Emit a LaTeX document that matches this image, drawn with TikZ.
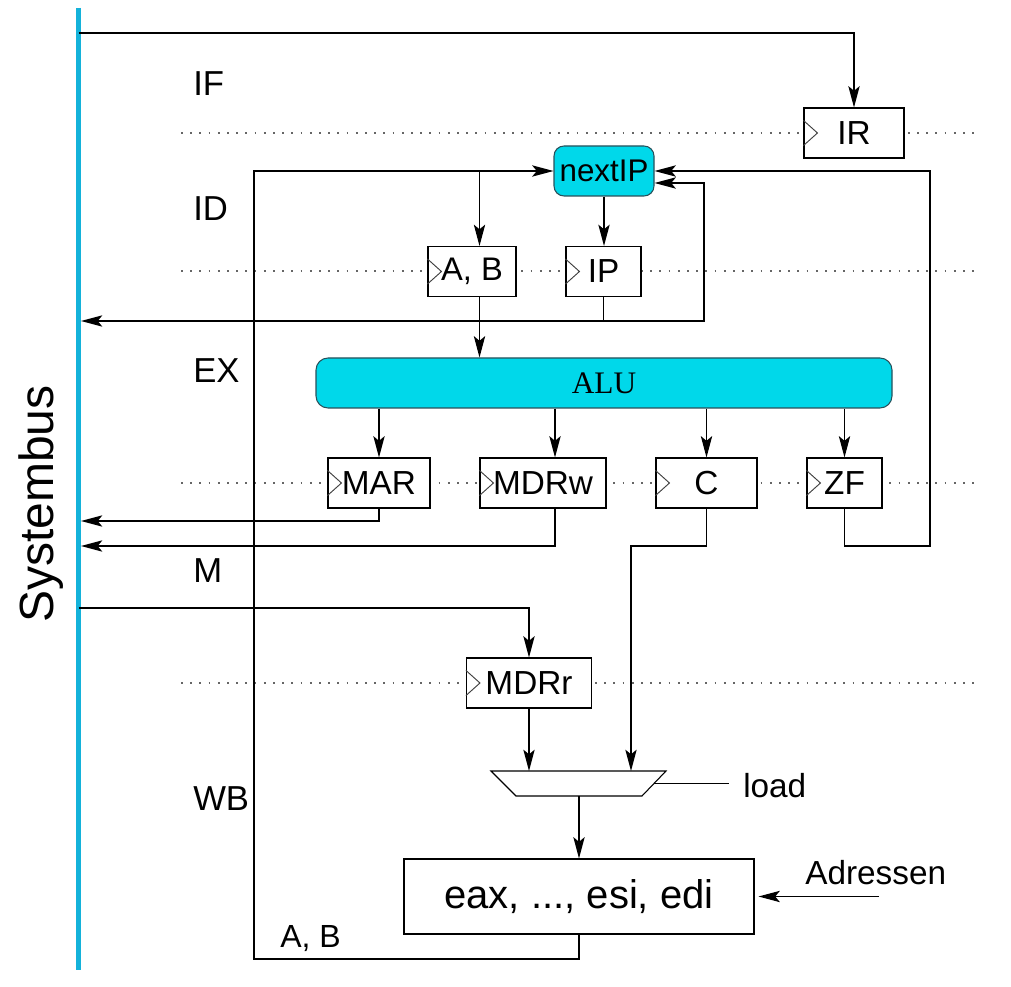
\documentclass[tikz,border=0pt]{standalone}
\usepackage{fontspec}
\setmainfont{Liberation Sans}
\newfontfamily\alufont{Liberation Serif}
\usetikzlibrary{arrows.meta}
\definecolor{busblue}{RGB}{20,178,218}
\definecolor{unitcyan}{RGB}{0,216,234}
\definecolor{unitedge}{RGB}{40,80,90}
\begin{document}
\begin{tikzpicture}[x=0.75pt,y=-0.75pt,
  reg/.style={draw, line width=0.8pt, fill=white, inner sep=0pt, minimum height=37.5pt, font=\fontsize{25}{30}\selectfont},
  unit/.style={draw=unitedge, fill=unitcyan, rounded corners=7.5pt, line width=0.8pt, inner sep=0pt, minimum height=37.5pt},
  wire/.style={line width=0.9pt},
  arr/.style={wire, -{Stealth[length=16pt,width=8.5pt,inset=3.5pt]}},
  stage/.style={anchor=base west, inner sep=0pt, font=\fontsize{26}{30}\selectfont},
  lbl/.style={anchor=base west, inner sep=0pt, font=\fontsize{25}{30}\selectfont},
  dots/.style={black!60, line width=1.3pt, dash pattern=on 1.3pt off 5.6pt},
  clock/.style={black!75, line width=0.7pt}]
\useasboundingbox (0,0) rectangle (1011,987);

% stage separators
\coordinate (d1a) at (181,133); \coordinate (d1b) at (980,133);
\coordinate (d2a) at (181,271); \coordinate (d2b) at (980,271);
\coordinate (d3a) at (181,483); \coordinate (d3b) at (980,483);
\coordinate (d4a) at (181,683); \coordinate (d4b) at (980,683);
\draw[dots] (d1a) -- (d1b);
\draw[dots] (d2a) -- (d2b);
\draw[dots] (d3a) -- (d3b);
\draw[dots] (d4a) -- (d4b);

% stage labels
\node[stage] (IF) at (193,96) {IF};
\node[stage] (ID) at (193,221) {ID};
\node[stage] (EX) at (193,383) {EX};
\node[stage] (M) at (193,583) {M};
\node[stage] (WB) at (193,810) {WB};

% system bus
\coordinate (bTop) at (78.5,8); \coordinate (bBot) at (78.5,970);
\draw[busblue, line width=3.75pt] (bTop) -- (bBot);
\node[anchor=base west, rotate=90, inner sep=0pt, font=\fontsize{36}{40}\selectfont] (sbus) at (53,623) {Systembus};

% units and registers
\node[reg, minimum width=75pt] (IR) at (854,133) {IR};
\node[unit, minimum width=75pt, font=\fontsize{23.5}{28}\selectfont] (nIP) at (604,171) {nextIP};
\node[reg, minimum width=66pt, font=\fontsize{24.5}{28}\selectfont] (AB) at (472,271.5) {A, B};
\node[reg, minimum width=56.25pt] (IP) at (603.5,271.5) {IP};
\node[unit, minimum width=432pt, rounded corners=9pt, font=\alufont\fontsize{23.5}{28}\selectfont] (ALU) at (604,383) {ALU};
\node[reg, minimum width=76.5pt] (MAR) at (379,483) {MAR};
\node[reg, minimum width=94.5pt] (MDRw) at (543,483) {MDRw};
\node[reg, minimum width=75.75pt] (C) at (706.5,483) {C};
\node[reg, minimum width=56.25pt] (ZF) at (844.5,483) {ZF};
\node[reg, minimum width=93.75pt] (MDRr) at (529,683) {MDRr};
\node[reg, minimum width=262.5pt, minimum height=56.25pt, font=\fontsize{30}{36}\selectfont] (RF) at (579,896.5) {eax, ..., esi, edi};

% clock marks
\foreach \r in {IR,AB,IP,MAR,MDRw,C,ZF,MDRr}{
  \draw[clock] ([yshift=9.4pt]\r.west) -- ([xshift=10.5pt]\r.west) -- ([yshift=-9.4pt]\r.west);
}

% multiplexer
\coordinate (mTL) at (491,771); \coordinate (mTR) at (666,771);
\coordinate (mBR) at (642,796); \coordinate (mBL) at (516,796);
\draw[line width=0.8pt, fill=white] (mTL) -- (mTR) -- (mBR) -- (mBL) -- cycle;
\coordinate (mR) at (654,783.5);
\coordinate (mO) at (579,796);
\node[lbl] (load) at (743,797) {load};
\draw[wire] (mR) -- ([xshift=-10.5pt]load.west |- mR);

% labels
\node[lbl] (adr) at (805,884) {Adressen};
\node[lbl, font=\fontsize{24}{28}\selectfont] (abl) at (280,947) {A, B};

% wires
\coordinate (s1) at (78.5,33);
\draw[arr] (s1) -| (IR.north);
\coordinate (fb) at (254,959);
\draw[arr] (RF.south) |- (fb) |- (nIP.west);
\coordinate (j1) at (479.5,171);
\draw[arr] (j1) -- (j1 |- AB.north);
\draw[arr] (j1 |- AB.south) -- (j1 |- ALU.north);
\draw[arr] (nIP.south) -- (nIP.south |- IP.north);
\coordinate (b321) at (81,321);
\coordinate (r704) at (704,321);
\draw[arr] (IP.south) |- (b321);
\draw[arr] (IP.south) |- (r704) |- ([yshift=-9pt]nIP.east);
\coordinate (r930) at (930,546);
\draw[arr] (ZF.south) |- (r930) |- (nIP.east);

\coordinate (xw) at (555,0);
\draw[arr] (MAR.north |- ALU.south) -- (MAR.north);
\draw[arr] (xw |- ALU.south) -- (xw |- MDRw.north);
\draw[arr] (C.north |- ALU.south) -- (C.north);
\draw[arr] (ZF.north |- ALU.south) -- (ZF.north);

\coordinate (b521) at (81,521);
\coordinate (b546) at (81,546);
\draw[arr] (MAR.south) |- (b521);
\draw[arr] (xw |- MDRw.south) |- (b546);
\coordinate (c631) at (631,546);
\draw[arr] (C.south) |- (c631) -- (c631 |- mTL);

\coordinate (s608) at (78.5,608);
\draw[arr] (s608) -| (MDRr.north);
\draw[arr] (MDRr.south) -- (MDRr.south |- mTL);
\draw[arr] (mO) -- (RF.north);

\coordinate (adrS) at (879,896.5);
\draw[arr, shorten >=3pt] (adrS) -- (RF.east);
\end{tikzpicture}
\end{document}
